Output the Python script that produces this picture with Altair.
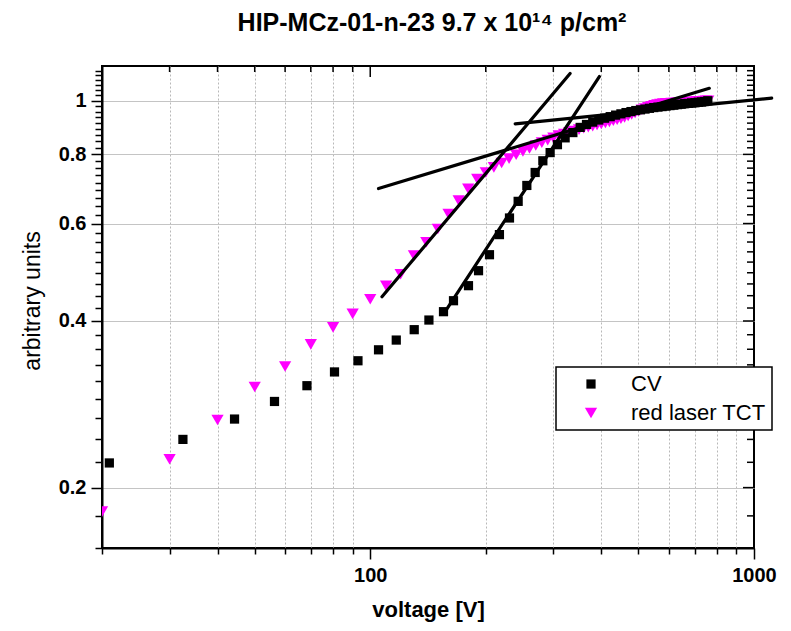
import altair as alt
import pandas as pd

# ---------------- data ----------------
SERIES = ["CV", "red laser TCT"]

CV_V = [20.9, 32.5, 44.3, 56.3, 68.4, 80.7, 92.9, 105.1, 116.9, 130.2,
        142.2, 155.2, 164.8, 180.3, 191.5, 204.5, 217.1, 230.6, 242.9, 255.9,
        269.0, 281.7, 294.3, 307.5, 322.0, 337.3, 352.4,
        366, 380, 394, 408, 422, 436, 450, 464, 478, 492, 506, 520, 534, 548,
        562, 576, 590, 604, 618, 632, 646, 660, 674, 688, 702, 716, 730, 744, 758]
CV_Y = [0.2216, 0.2444, 0.266, 0.2862, 0.3056, 0.3236, 0.339, 0.3548, 0.3695, 0.3858,
        0.4016, 0.4158, 0.4352, 0.4633, 0.4931, 0.527, 0.573, 0.614, 0.658, 0.703,
        0.742, 0.779, 0.806, 0.833, 0.857, 0.876, 0.895,
        0.906, 0.915, 0.923, 0.93, 0.936, 0.942, 0.947, 0.952, 0.956, 0.96, 0.963,
        0.966, 0.969, 0.972, 0.974, 0.976, 0.978, 0.98, 0.982, 0.984, 0.986, 0.988,
        0.989, 0.991, 0.992, 0.994, 0.995, 0.997, 1.0]

TCT_V = [20, 30, 40, 50, 60, 70, 80, 90, 100, 110,
         120, 130, 140, 150, 160, 170, 180, 190, 200, 210,
         220, 230, 240, 250, 260, 270, 280, 290, 300, 310,
         320, 330, 340, 350, 360, 370, 380, 390, 400, 410,
         420, 430, 440, 450, 460, 470, 480, 490, 500, 510,
         520, 530, 540, 550, 560, 570, 580, 590, 600, 610,
         620, 630, 640, 650, 660, 670, 680, 690, 700, 710,
         720, 730, 740, 750, 760]
TCT_Y = [0.181, 0.225, 0.265, 0.304, 0.331, 0.363, 0.3895, 0.412, 0.438, 0.463,
         0.486, 0.525, 0.555, 0.5865, 0.624, 0.66, 0.693, 0.722, 0.742, 0.758,
         0.772, 0.786, 0.799, 0.81, 0.82, 0.83, 0.84, 0.849, 0.857, 0.865,
         0.871, 0.877, 0.882, 0.887, 0.892, 0.896, 0.9, 0.904, 0.908, 0.912,
         0.916, 0.92, 0.924, 0.928, 0.933, 0.939, 0.945, 0.951, 0.957, 0.963,
         0.968, 0.973, 0.977, 0.981, 0.984, 0.986, 0.988, 0.989, 0.989, 0.99,
         0.99, 0.991, 0.992, 0.992, 0.993, 0.994, 0.995, 0.995, 0.996, 0.997,
         0.998, 0.998, 0.999, 1.0, 1.0]

# straight-line fits (start / end points)
FIT_X0 = [107.3, 155.2, 105.1, 238.6]
FIT_Y0 = [0.4425, 0.4118, 0.694, 0.908]
FIT_X1 = [331.7, 395.4, 764.8, 1112.0]
FIT_Y1 = [1.12, 1.106, 1.053, 1.011]

# axis ticks
X_TICKS = [20, 30, 40, 50, 60, 70, 80, 90, 100, 200, 300, 400, 500, 600, 700, 800, 900, 1000]
X_LABELS = [100, 1000]
Y_TICKS = [round(k * 0.2 / 9, 4) for k in range(7, 53)]

TITLE = "HIP-MCz-01-n-23 9.7 x 10\u00b9\u2074 p/cm\u00b2"

# ---------------- build ----------------
W, H = 652, 482
FONT = "Liberation Sans"

xscale = alt.Scale(type="log", domain=[20, 1000], nice=False)
yscale = alt.Scale(type="log", domain=[0.15556, 1.15556], nice=False)


def is_major_y(v):
    return abs(v * 5 - round(v * 5)) < 1e-3


y_major = [v for v in Y_TICKS if is_major_y(v)]
y_minor = [v for v in Y_TICKS if not is_major_y(v)]
x_minor = [v for v in X_TICKS if v not in X_LABELS]

pts_df = pd.concat([
    pd.DataFrame({"V": TCT_V, "Y": TCT_Y, "series": SERIES[1]}),
    pd.DataFrame({"V": CV_V, "Y": CV_Y, "series": SERIES[0]}),
], ignore_index=True)

fit_rows = []
for i in range(len(FIT_X0)):
    fit_rows.append({"seg": i, "V": FIT_X0[i], "Y": FIT_Y0[i]})
    fit_rows.append({"seg": i, "V": FIT_X1[i], "Y": FIT_Y1[i]})
fit_df = pd.DataFrame(fit_rows)

xmaj_test = "datum.value == 100 || datum.value == 1000"
ymaj_test = "abs(datum.value * 5 - round(datum.value * 5)) < 0.001"

x_axis = alt.Axis(
    values=X_TICKS,
    title="voltage [V]", titleFont=FONT, titleFontSize=22, titleFontWeight="bold",
    titleColor="black", titleX=W / 2, titleY=68, titleBaseline="alphabetic",
    labelExpr=f"({xmaj_test}) ? format(datum.value, 'd') : ''",
    labelFont=FONT, labelFontSize=20, labelFontWeight="bold", labelColor="black",
    labelPadding=6, labelFlush=False, labelOverlap=False,
    tickSize={"condition": {"test": xmaj_test, "value": 11}, "value": 6},
    tickColor="black", tickWidth=1.5,
    domainColor="black", domainWidth=2,
    grid=True, gridColor="#b8b8b8", gridDash=[2, 2], gridWidth=1,
    gridOpacity={"condition": {"test": xmaj_test + " || datum.value == 20", "value": 0}, "value": 1},
)

y_axis = alt.Axis(
    values=Y_TICKS,
    title="arbitrary units", titleFont=FONT, titleFontSize=23, titleFontWeight="normal",
    titleColor="black", titleX=-63, titleY=234.5, titleBaseline="alphabetic",
    labelExpr=f"({ymaj_test}) ? format(datum.value, '.1~f') : ''",
    labelFont=FONT, labelFontSize=20, labelFontWeight="bold", labelColor="black",
    labelPadding=5, labelOverlap=False, labelFlush=False,
    tickSize={"condition": {"test": ymaj_test, "value": 11}, "value": 7},
    tickColor="black", tickWidth=1.5,
    domainColor="black", domainWidth=2,
    grid=True, gridColor="#c4c4c4", gridWidth=1.2,
    gridOpacity={"condition": {"test": ymaj_test, "value": 1}, "value": 0},
)

legend = alt.Legend(
    orient="none", legendX=454, legendY=301, title=None,
    padding=6, symbolOffset=18, labelOffset=29, rowPadding=7,
    labelFont=FONT, labelFontSize=22, labelColor="black", labelLimit=400,
    symbolSize=100, symbolStrokeWidth=0,
    strokeColor="black", fillColor="white",
)

X = lambda f: alt.X(f, scale=xscale, axis=x_axis)
Y = lambda f: alt.Y(f, scale=yscale, axis=y_axis)

pts = alt.Chart(pts_df).mark_point(filled=True, opacity=1, clip=True, strokeWidth=0).encode(
    x=X("V:Q"),
    y=Y("Y:Q"),
    color=alt.Color("series:N", scale=alt.Scale(domain=SERIES, range=["#000000", "#ff00ff"]), legend=legend),
    shape=alt.Shape("series:N", scale=alt.Scale(domain=SERIES, range=["square", "triangle-down"]), legend=legend),
    size=alt.Size("series:N", scale=alt.Scale(domain=SERIES, range=[85, 150]), legend=None),
)

fits = alt.Chart(fit_df).mark_line(color="black", strokeWidth=3.2, clip=False, strokeCap="round").encode(
    x=X("V:Q"),
    y=Y("Y:Q"),
    detail="seg:N",
)

rule_kw = dict(color="black", strokeWidth=1.5)
top_min = alt.Chart(pd.DataFrame({"V": x_minor})).mark_rule(**rule_kw).encode(
    x=X("V:Q"), y=alt.value(0), y2=alt.value(6))
top_maj = alt.Chart(pd.DataFrame({"V": X_LABELS})).mark_rule(**rule_kw).encode(
    x=X("V:Q"), y=alt.value(0), y2=alt.value(11))
right_min = alt.Chart(pd.DataFrame({"Y": y_minor})).mark_rule(**rule_kw).encode(
    y=Y("Y:Q"), x=alt.value(W), x2=alt.value(W - 7))
right_maj = alt.Chart(pd.DataFrame({"Y": y_major})).mark_rule(**rule_kw).encode(
    y=Y("Y:Q"), x=alt.value(W), x2=alt.value(W - 11))

chart = alt.layer(pts, fits, top_min, top_maj, right_min, right_maj).properties(
    width=W, height=H,
    title=alt.TitleParams(text=TITLE, font=FONT, fontSize=25, fontWeight="bold", color="black",
                          anchor="middle", frame="group", baseline="alphabetic", offset=5, dx=4),
    autosize=alt.AutoSizeParams(type="none"),
    padding={"left": 94, "top": 58, "right": 29, "bottom": 75},
).configure_view(stroke="black", strokeWidth=2).configure_legend(strokeWidth=1.5)

chart.save("out.html", embed_options={"renderer": "svg", "actions": False})
